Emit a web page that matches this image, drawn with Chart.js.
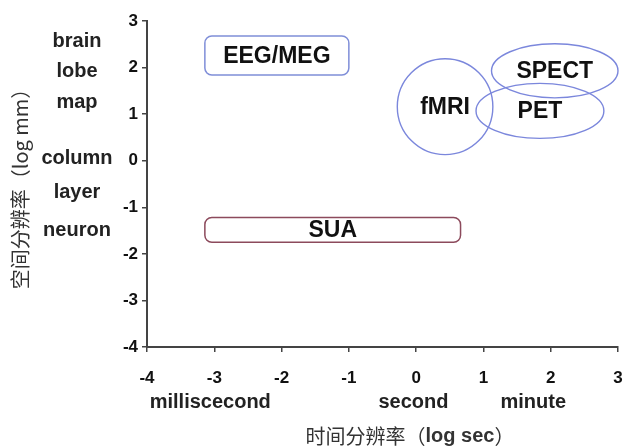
<!DOCTYPE html>
<html>
<head>
<meta charset="utf-8">
<script src="https://cdn.jsdelivr.net/npm/chart.js@4/dist/chart.umd.min.js"></script>
<style>
  html, body { margin: 0; padding: 0; background: #fff; }
  #wrap { width: 624px; height: 446px; }
</style>
</head>
<body>
<div id="wrap"><canvas id="myChart"></canvas></div>
<script>
// axis ranges / tick values
var xTicks = [-4, -3, -2, -1, 0, 1, 2, 3];
var yTicks = [-4, -3, -2, -1, 0, 1, 2, 3];

// rounded boxes: [x0, x1] and [y0, y1] in log units
var boxNames = ['EEG/MEG', 'SUA'];
var boxX = [[-3.14, -1.0], [-3.14, 0.66]];
var boxY = [[1.84, 2.68], [-1.75, -1.22]];

// ellipses: centre and half widths in log units
var ellNames = ['fMRI', 'SPECT', 'PET'];
var ellCx = [0.43, 2.06, 1.84];
var ellCy = [1.16, 1.93, 1.07];
var ellRx = [0.71, 0.94, 0.95];
var ellRy = [1.03, 0.58, 0.59];

// size names along the y axis
var sizeNames = ['brain', 'lobe', 'map', 'column', 'layer', 'neuron'];
var sizeY = [2.55, 1.91, 1.24, 0.04, -0.68, -1.5];

// time names along the x axis
var timeNames = ['milliscecond', 'second', 'minute'];
var timeX = [-3.06, -0.04, 1.74];

var xTitle = ['时间分辨率', '（', 'log sec', '）'];
var yTitle = '空间分辨率（log mm）';

var latin = "'Liberation Sans', Arial, sans-serif";
var cjk = "'Noto Sans CJK SC', sans-serif";

function roundRect(ctx, x, y, w, h, r){
    ctx.beginPath();
    ctx.moveTo(x + r, y);
    ctx.lineTo(x + w - r, y);
    ctx.arcTo(x + w, y, x + w, y + r, r);
    ctx.lineTo(x + w, y + h - r);
    ctx.arcTo(x + w, y + h, x + w - r, y + h, r);
    ctx.lineTo(x + r, y + h);
    ctx.arcTo(x, y + h, x, y + h - r, r);
    ctx.lineTo(x, y + r);
    ctx.arcTo(x, y, x + r, y, r);
    ctx.closePath();
}

var shapesPlugin = {
    id: 'shapes',
    afterDatasetsDraw: function(chart){
        var ctx = chart.ctx;
        var xs = chart.scales.x, ys = chart.scales.y;
        ctx.save();
        // boxes
        var boxColors = ['#7f8ed8', '#8c4a5c'];
        for(let i = 0; i < boxNames.length; i++){
            var x0 = xs.getPixelForValue(boxX[i][0]);
            var x1 = xs.getPixelForValue(boxX[i][1]);
            var y0 = ys.getPixelForValue(boxY[i][1]);
            var y1 = ys.getPixelForValue(boxY[i][0]);
            roundRect(ctx, x0, y0, x1 - x0, y1 - y0, 7);
            ctx.lineWidth = 1.5;
            ctx.strokeStyle = boxColors[i];
            ctx.stroke();
            ctx.fillStyle = '#111';
            ctx.font = 'bold 23px ' + latin;
            ctx.textAlign = 'center';
            ctx.textBaseline = 'middle';
            ctx.fillText(boxNames[i], (x0 + x1) / 2, (y0 + y1) / 2 + 1);
        }
        // ellipses
        for(let i = 0; i < ellNames.length; i++){
            var cx = xs.getPixelForValue(ellCx[i]);
            var cy = ys.getPixelForValue(ellCy[i]);
            var rx = Math.abs(xs.getPixelForValue(ellCx[i] + ellRx[i]) - cx);
            var ry = Math.abs(ys.getPixelForValue(ellCy[i] + ellRy[i]) - cy);
            ctx.beginPath();
            ctx.ellipse(cx, cy, rx, ry, 0, 0, Math.PI * 2);
            ctx.lineWidth = 1.4;
            ctx.strokeStyle = '#7b87dc';
            ctx.stroke();
        }
        ctx.fillStyle = '#111';
        ctx.font = 'bold 23px ' + latin;
        ctx.textAlign = 'center';
        ctx.textBaseline = 'middle';
        for(let i = 0; i < ellNames.length; i++){
            ctx.fillText(ellNames[i], xs.getPixelForValue(ellCx[i]), ys.getPixelForValue(ellCy[i]) + 1);
        }
        // size names
        ctx.fillStyle = '#222';
        ctx.font = 'bold 20px ' + latin;
        for(let i = 0; i < sizeNames.length; i++){
            ctx.fillText(sizeNames[i], 77, ys.getPixelForValue(sizeY[i]));
        }
        // time names
        for(let i = 0; i < timeNames.length; i++){
            ctx.fillText(timeNames[i], xs.getPixelForValue(timeX[i]), 402);
        }
        // x title, drawn in pieces
        var fonts = ['20px ' + cjk, '20px ' + cjk, 'bold 20px ' + latin, '20px ' + cjk];
        var widths = [];
        var total = 0;
        for(let i = 0; i < xTitle.length; i++){
            ctx.font = fonts[i];
            widths.push(ctx.measureText(xTitle[i]).width);
            total += widths[i];
        }
        var tx = 410 - total / 2;
        ctx.textAlign = 'left';
        ctx.fillStyle = '#333';
        for(let i = 0; i < xTitle.length; i++){
            ctx.font = fonts[i];
            ctx.fillText(xTitle[i], tx, 436);
            tx += widths[i];
        }
        ctx.restore();
    }
};

var ctx = document.getElementById('myChart');
var myChart = new Chart(ctx, {
    type: 'scatter',
    data: { datasets: [{ data: [], showLine: false }] },
    plugins: [shapesPlugin],
    options: {
        responsive: true,
        maintainAspectRatio: false,
        animation: false,
        layout: { padding: { top: 21, right: 6, left: 0, bottom: 0 } },
        plugins: { legend: { display: false }, tooltip: { enabled: false } },
        scales: {
            x: {
                type: 'linear',
                min: -4, max: 3,
                afterBuildTicks: function(s){ s.ticks = xTicks.map(function(v){ return { value: v }; }); },
                afterFit: function(s){ s.height = 99; s.paddingLeft = 0; s.paddingRight = 0; },
                grid: { drawOnChartArea: false, drawTicks: true, tickLength: 5, color: '#444', lineWidth: 1.5 },
                border: { color: '#444', width: 2 },
                ticks: { color: '#111', padding: 16, font: { family: latin, size: 17, weight: 'bold' } }
            },
            y: {
                type: 'linear',
                min: -4, max: 3,
                afterBuildTicks: function(s){ s.ticks = yTicks.map(function(v){ return { value: v }; }); },
                afterFit: function(s){ s.width = 147; s.paddingTop = 0; s.paddingBottom = 0; },
                grid: { drawOnChartArea: false, drawTicks: true, tickLength: 5, color: '#444', lineWidth: 1.5 },
                border: { color: '#444', width: 2 },
                ticks: { color: '#111', padding: 4, font: { family: latin, size: 17, weight: 'bold' } },
                title: {
                    display: true,
                    text: yTitle,
                    color: '#333',
                    padding: { top: 8, bottom: 0 },
                    font: { family: cjk, size: 20 }
                }
            }
        }
    }
});
</script>
</body>
</html>
